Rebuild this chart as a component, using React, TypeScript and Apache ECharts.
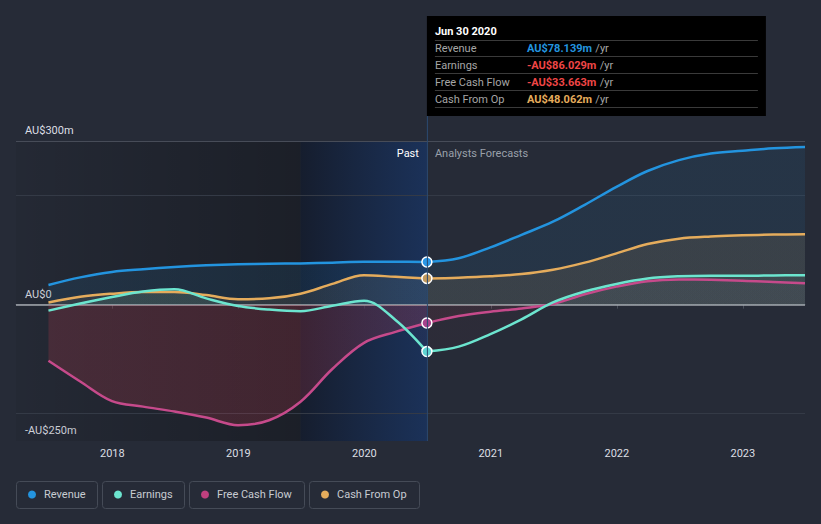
import React, { useEffect, useRef } from 'react';
import * as echarts from 'echarts';

// ---- Data (AU$ millions) ----
const pastDates = ['2017-06-30', '2017-09-30', '2017-12-31', '2018-03-31', '2018-06-30', '2018-09-30', '2018-12-31', '2019-03-31', '2019-06-30', '2019-09-30', '2019-12-31', '2020-03-31', '2020-06-30'];
const forecastDates = ['2020-06-30', '2020-09-30', '2020-12-31', '2021-03-31', '2021-06-30', '2021-09-30', '2021-12-31', '2022-03-31', '2022-06-30', '2022-09-30', '2022-12-31', '2023-03-31', '2023-06-30'];

const revenuePast = [36, 50, 60, 65, 69, 72, 74, 75, 75.5, 77, 78.5, 78.5, 78.139];
const earningsPast = [-11, 2, 14, 24, 28, 11.5, -2.5, -9, -12, -2, 7, -28, -86.029];
const fcfPast = [-103, -141, -177, -187, -196, -207, -221, -212, -178, -118, -70, -50, -33.663];
const cfoPast = [4, 14.5, 20, 23, 23, 17.5, 10, 11.5, 20, 38, 54, 51, 48.062];

const revenueForecast = [78.139, 85, 105, 128, 152, 183, 216, 245, 265, 277, 282, 286.5, 289];
const earningsForecast = [-86.029, -77, -54, -27, 4, 24, 38, 48, 52, 53, 53, 53.5, 54];
const fcfForecast = [-33.663, -21, -13, -7, 1, 19, 33, 43, 46, 45.5, 44, 41.5, 39];
const cfoForecast = [48.062, 49.5, 52, 56, 64, 77, 94, 111, 121, 125, 127, 128.5, 129];

const axisMin = '2017-03-28';
const axisMax = '2023-06-30';
const pastStart = '2019-06-30';
const yMin = -250;
const yMax = 300;
const yLabelValues = [300, 0, -250];
const gridValues = [300, 200, -200];

const FONT = 'Roboto, "Noto Sans", sans-serif';

interface Metric {
  name: string;
  color: string;
  marker: string;
  past: number[];
  forecast: number[];
  pastPos: string;
  pastNeg: string;
  fcPos: string;
  fcNeg: string;
}

const metrics: Metric[] = [
  { name: 'Revenue', color: '#2394df', marker: '#2a96e6', past: revenuePast, forecast: revenueForecast,
    pastPos: 'rgba(35,148,223,0.15)', pastNeg: 'rgba(35,148,223,0.15)', fcPos: 'rgba(35,148,223,0.13)', fcNeg: 'rgba(35,148,223,0.13)' },
  { name: 'Cash From Op', color: '#e5ac5c', marker: '#c29a5e', past: cfoPast, forecast: cfoForecast,
    pastPos: 'rgba(229,172,92,0.12)', pastNeg: 'rgba(229,172,92,0.12)', fcPos: 'rgba(229,172,92,0.15)', fcNeg: 'rgba(229,172,92,0.15)' },
  { name: 'Free Cash Flow', color: '#c64a8b', marker: '#a8428c', past: fcfPast, forecast: fcfForecast,
    pastPos: 'rgba(198,74,139,0.06)', pastNeg: 'rgba(215,60,80,0.28)', fcPos: 'rgba(198,74,139,0.05)', fcNeg: 'rgba(215,60,80,0.10)' },
  { name: 'Earnings', color: '#6ce5cf', marker: '#5fd4d2', past: earningsPast, forecast: earningsForecast,
    pastPos: 'rgba(108,229,207,0.12)', pastNeg: 'rgba(215,60,80,0.05)', fcPos: 'rgba(108,229,207,0.08)', fcNeg: 'rgba(215,60,80,0.05)' },
];

const legendItems = [
  { name: 'Revenue', color: '#2394df' },
  { name: 'Earnings', color: '#6ce5cf' },
  { name: 'Free Cash Flow', color: '#c0407e' },
  { name: 'Cash From Op', color: '#e5ac5c' },
];

interface Geo { zeroY: number; topY: number; botY: number; xNow: number; }

function splitFill(pos: string, neg: string, g: Geo | null) {
  if (!g) return pos;
  const f = Math.min(1, Math.max(0, (g.zeroY - g.topY) / (g.botY - g.topY)));
  return new echarts.graphic.LinearGradient(0, g.topY, 0, g.botY, [
    { offset: 0, color: pos }, { offset: f, color: pos },
    { offset: f, color: neg }, { offset: 1, color: neg },
  ], true);
}

function fmtVal(v: number) {
  const s = 'AU$' + Math.abs(v).toFixed(3) + 'm';
  return v < 0 ? '-' + s : s;
}

function fmtDate(d: string) {
  const m = ['Jan', 'Feb', 'Mar', 'Apr', 'May', 'Jun', 'Jul', 'Aug', 'Sep', 'Oct', 'Nov', 'Dec'];
  const [y, mo, da] = d.split('-');
  return `${m[parseInt(mo, 10) - 1]} ${parseInt(da, 10)} ${y}`;
}

function buildOption(g: Geo | null) {
  const nowDate = pastDates[pastDates.length - 1];
  const series: any[] = [];

  metrics.forEach((m, mi) => {
    series.push({
      type: 'line', name: m.name + ' past', smooth: 0.35, symbol: 'none', showSymbol: false,
      lineStyle: { color: m.color, width: 2.5 }, itemStyle: { color: m.color },
      areaStyle: { color: splitFill(m.pastPos, m.pastNeg, g), origin: 0 },
      data: pastDates.map((d, i) => [d, m.past[i]]),
      z: 2, silent: true,
      ...(mi === 0 ? {
        markArea: {
          silent: true, z: 1,
          data: [
            [{ xAxis: axisMin, itemStyle: { color: new echarts.graphic.LinearGradient(0, 0, 1, 0, [
              { offset: 0, color: 'rgba(0,0,0,0.05)' }, { offset: 1, color: 'rgba(0,0,0,0.28)' }]) } }, { xAxis: pastStart }],
            [{ xAxis: pastStart, itemStyle: { color: new echarts.graphic.LinearGradient(0, 0, 1, 0, [
              { offset: 0, color: 'rgba(8,18,38,0.55)' }, { offset: 1, color: 'rgba(16,56,122,0.5)' }]) } }, { xAxis: nowDate }],
          ],
        },
        markLine: {
          silent: true, z: 1, symbol: ['none', 'none'], label: { show: false },
          data: [
            ...gridValues.map((v) => ({ yAxis: v, lineStyle: { color: v === yMax ? '#474c58' : '#343a46', width: 1, type: 'solid' } })),
            { yAxis: 0, lineStyle: { color: '#a3a7ae', width: 1.5, type: 'solid' } },
          ],
        },
      } : {}),
    });
  });

  metrics.forEach((m) => {
    series.push({
      type: 'line', name: m.name + ' forecast', smooth: 0.35, symbol: 'none', showSymbol: true, showAllSymbol: true,
      lineStyle: { color: m.color, width: 2.5 }, itemStyle: { color: m.color },
      areaStyle: { color: splitFill(m.fcPos, m.fcNeg, g), origin: 0 },
      data: forecastDates.map((d, i) => i === 0
        ? { value: [d, m.forecast[i]], symbol: 'circle', symbolSize: 10,
            itemStyle: { color: m.marker, borderColor: '#ffffff', borderWidth: 1.5 } }
        : [d, m.forecast[i]]),
      z: 3, silent: true,
    });
  });

  const graphic: any[] = [];
  if (g) {
    const x0 = g.xNow;
    // vertical "now" line
    graphic.push({ type: 'line', silent: true, z: 10,
      shape: { x1: x0 + 0.5, y1: 116, x2: x0 + 0.5, y2: g.botY },
      style: { stroke: '#2b4a70', lineWidth: 1 } });
    // Past / Analysts Forecasts
    graphic.push({ type: 'text', x: x0 - 8, y: 153, z: 10, style: { text: 'Past', fill: '#ffffff', font: `11px ${FONT}`, align: 'right', verticalAlign: 'middle' } });
    graphic.push({ type: 'text', x: x0 + 8, y: 153, z: 10, style: { text: 'Analysts Forecasts', fill: '#9aa0aa', font: `11px ${FONT}`, align: 'left', verticalAlign: 'middle' } });

    // tooltip box
    const tx = x0, ty = 16, tw = 339, th = 100;
    graphic.push({ type: 'rect', z: 20, shape: { x: tx, y: ty, width: tw, height: th }, style: { fill: '#000000' } });
    graphic.push({ type: 'text', z: 21, x: tx + 8, y: ty + 15, style: { text: fmtDate(nowDate), fill: '#ffffff', font: `bold 11px ${FONT}`, verticalAlign: 'middle' } });
    const rows = [
      { label: 'Revenue', v: revenuePast[revenuePast.length - 1], color: '#2394df' },
      { label: 'Earnings', v: earningsPast[earningsPast.length - 1], color: '#2394df' },
      { label: 'Free Cash Flow', v: fcfPast[fcfPast.length - 1], color: '#2394df' },
      { label: 'Cash From Op', v: cfoPast[cfoPast.length - 1], color: '#e5ac5c' },
    ];
    graphic.push({ type: 'line', z: 21, shape: { x1: tx + 8, y1: ty + 24.5, x2: tx + 331, y2: ty + 24.5 }, style: { stroke: '#3a3a3a', lineWidth: 1 } });
    rows.forEach((r, i) => {
      const cy = ty + 32 + i * 17;
      const col = r.v < 0 ? '#f04646' : r.color;
      graphic.push({ type: 'text', z: 21, x: tx + 8, y: cy, style: { text: r.label, fill: '#a6a6a6', font: `11px ${FONT}`, verticalAlign: 'middle' } });
      graphic.push({ type: 'text', z: 21, x: tx + 100, y: cy, style: {
        text: `{v|${fmtVal(r.v)}} {u|/yr}`, verticalAlign: 'middle',
        rich: { v: { fill: col, font: `bold 11px ${FONT}` }, u: { fill: '#a6a6a6', font: `11px ${FONT}` } } } });
      graphic.push({ type: 'line', z: 21, shape: { x1: tx + 8, y1: cy + 8.5, x2: tx + 331, y2: cy + 8.5 }, style: { stroke: '#3a3a3a', lineWidth: 1 } });
    });
  }

  // legend
  const legendBoxes = [
    { x: 16, w: 81 }, { x: 102, w: 82 }, { x: 189, w: 115 }, { x: 309, w: 110 },
  ];
  legendItems.forEach((it, i) => {
    const b = legendBoxes[i];
    graphic.push({ type: 'rect', z: 10, shape: { x: b.x + 0.5, y: 481.5, width: b.w, height: 27, r: 3 }, style: { fill: 'none', stroke: '#454b57', lineWidth: 1 } });
    graphic.push({ type: 'circle', z: 10, shape: { cx: b.x + 16, cy: 494.5, r: 4 }, style: { fill: it.color } });
    graphic.push({ type: 'text', z: 10, x: b.x + 28, y: 494.5, style: { text: it.name, fill: '#c8ccd2', font: `11px ${FONT}`, verticalAlign: 'middle' } });
  });

  return {
    animation: false,
    backgroundColor: '#262b37',
    textStyle: { fontFamily: FONT },
    grid: { left: 16, right: 16, top: 141, bottom: 83, containLabel: false },
    xAxis: {
      type: 'time', min: axisMin, max: axisMax,
      minInterval: 365 * 24 * 3600 * 1000, splitNumber: 6,
      axisLine: { show: true, lineStyle: { color: '#4a505c', width: 1 } },
      axisTick: { show: true, length: 4, lineStyle: { color: '#4a505c' } },
      axisLabel: { color: '#dcdfe4', fontSize: 11, margin: 7, fontFamily: FONT,
        formatter: (val: number) => String(new Date(val).getFullYear()) },
      splitLine: { show: false },
    },
    yAxis: {
      type: 'value', min: yMin, max: yMax, interval: 50,
      axisLine: { show: false }, axisTick: { show: false }, splitLine: { show: false },
      axisLabel: {
        inside: true, margin: 9, color: '#dcdfe4', fontSize: 11, fontFamily: FONT,
        verticalAlign: 'bottom', padding: [0, 0, 5, 0],
        formatter: (v: number) => (yLabelValues.includes(v) ? (v < 0 ? '-AU$' + Math.abs(v) + 'm' : v === 0 ? 'AU$0' : 'AU$' + v + 'm') : ''),
      },
    },
    series,
    graphic,
  };
}

export default function App() {
  const ref = useRef<HTMLDivElement>(null);
  useEffect(() => {
    if (!ref.current) return;
    const chart = echarts.init(ref.current, null, { renderer: 'svg' });
    chart.setOption(buildOption(null));
    const geo: Geo = {
      zeroY: chart.convertToPixel({ yAxisIndex: 0 }, 0) as number,
      topY: chart.convertToPixel({ yAxisIndex: 0 }, yMax) as number,
      botY: chart.convertToPixel({ yAxisIndex: 0 }, yMin) as number,
      xNow: chart.convertToPixel({ xAxisIndex: 0 }, pastDates[pastDates.length - 1]) as number,
    };
    chart.setOption(buildOption(geo), { notMerge: true });
    return () => chart.dispose();
  }, []);
  return (
    <div style={{ position: 'fixed', left: 0, top: 0, width: 821, height: 524, background: '#262b37' }}>
      <div ref={ref} style={{ width: 821, height: 524 }} />
    </div>
  );
}
